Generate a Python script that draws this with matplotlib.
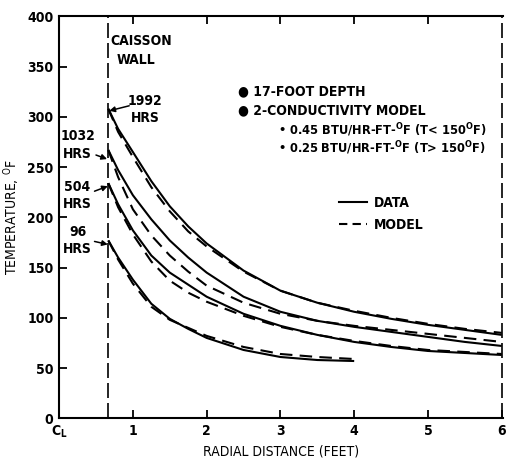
import numpy as np
import matplotlib.pyplot as plt
from matplotlib.lines import Line2D

plt.rcParams['font.family'] = ['DejaVu Sans']
plt.rcParams['font.stretch'] = 'condensed'
plt.rcParams['font.weight'] = 'bold'
plt.rcParams['mathtext.fontset'] = 'custom'
plt.rcParams['mathtext.rm'] = 'DejaVu Sans:stretch=condensed:weight=bold'

# radial distance (feet)
r = [0.667, 0.8, 1.0, 1.25, 1.5, 1.75, 2.0, 2.5, 3.0, 3.5, 4.0, 4.5, 5.0, 5.5, 6.0]
r96 = [0.667, 0.8, 1.0, 1.25, 1.5, 1.75, 2.0, 2.5, 3.0, 3.5, 4.0]

# temperature (F), data and model for each time
data_1992 = [308, 288, 265, 236, 211, 191, 174, 147, 127, 115, 106, 99, 93, 88, 83]
model_1992 = [308, 285, 260, 230, 206, 186, 171, 146, 127, 115, 107, 100, 94, 89, 85]
data_1032 = [267, 247, 222, 198, 177, 160, 145, 121, 106, 97, 91, 86, 81, 76, 72]
model_1032 = [267, 240, 208, 182, 162, 146, 132, 115, 104, 97, 92, 88, 84, 80, 76]
data_504 = [234, 213, 187, 162, 145, 133, 121, 104, 92, 83, 76, 71, 67, 65, 63]
model_504 = [234, 210, 183, 156, 137, 125, 116, 102, 91, 83, 77, 72, 68, 66, 64]
data_96 = [177, 160, 138, 114, 99, 89, 80, 68, 61, 58, 57]
model_96 = [177, 158, 134, 111, 98, 90, 82, 71, 64, 61, 59]

wall = 0.667
fs = 10

fig = plt.figure(figsize=(5.14, 4.62), dpi=100)
ax = fig.add_axes([0.115, 0.0946, 0.864, 0.870])

dash = (0, (6, 3.5))
lw = 1.5
for d, m, xs in [(data_1992, model_1992, r), (data_1032, model_1032, r),
                 (data_504, model_504, r), (data_96, model_96, r96)]:
    ax.plot(xs, d, color='black', lw=lw, solid_capstyle='butt')
    ax.plot(xs, m, color='black', lw=lw, linestyle=dash)

ax.axvline(wall, color='black', lw=1.2, linestyle=(0, (9, 3)))
ax.axvline(6.0, color='black', lw=1.2, linestyle=(0, (9, 3)))

ax.set_xlim(0, 6.02)
ax.set_ylim(0, 400)
ax.spines['right'].set_visible(False)
for s in ['left', 'bottom', 'top']:
    ax.spines[s].set_linewidth(1.5)

ax.set_yticks(np.arange(0, 401, 50))
ax.set_xticks([0, 1, 2, 3, 4, 5, 6])
ax.set_xticklabels(['C$_\\mathregular{L}$', '1', '2', '3', '4', '5', '6'])
ax.tick_params(direction='in', length=6, width=1.3, labelsize=fs, top=True, pad=4)
ax.xaxis.get_major_ticks()[0].tick1line.set_visible(False)
ax.xaxis.get_major_ticks()[0].tick2line.set_visible(False)
ax.xaxis.get_major_ticks()[6].tick2line.set_visible(False)

ax.set_xlabel('RADIAL DISTANCE (FEET)', fontsize=fs, labelpad=3)
ax.set_ylabel('TEMPERATURE, $^\\mathregular{O}$F', fontsize=fs, labelpad=4)

ax.text(0.70, 375, 'CAISSON', fontsize=fs, ha='left', va='center')
ax.text(1.04, 357, 'WALL', fontsize=fs, ha='center', va='center')

labels = [('1992\nHRS', 1.17, 307, (0.95, 311), (0.68, 306)),
          ('1032\nHRS', 0.25, 272, (0.50, 262), (0.65, 258)),
          ('504\nHRS', 0.24, 222, (0.48, 226), (0.66, 231)),
          ('96\nHRS', 0.25, 177, (0.48, 176), (0.66, 173))]
for txt, tx, ty, a0, a1 in labels:
    ax.text(tx, ty, txt, fontsize=fs, ha='center', va='center', linespacing=1.3)
    ax.annotate('', xy=a1, xytext=a0,
                arrowprops=dict(arrowstyle='-|>', color='black', lw=1.1,
                                mutation_scale=8, shrinkA=0, shrinkB=0))

ax.text(2.43, 325, '\u25cf 17-FOOT DEPTH', fontsize=fs, va='center')
ax.text(2.43, 306, '\u25cf 2-CONDUCTIVITY MODEL', fontsize=fs, va='center')
ax.text(2.97, 287, '\u2022 0.45 BTU/HR-FT-$^\\mathregular{O}$F (T< 150$^\\mathregular{O}$F)',
        fontsize=9.2, va='center')
ax.text(2.97, 269, '\u2022 0.25 BTU/HR-FT-$^\\mathregular{O}$F (T> 150$^\\mathregular{O}$F)',
        fontsize=9.2, va='center')

handles = [Line2D([], [], color='black', lw=lw),
           Line2D([], [], color='black', lw=lw, linestyle=(0, (4, 2.5)))]
ax.legend(handles, ['DATA', 'MODEL'], loc='center left', bbox_to_anchor=(0.602, 0.508),
          frameon=False, fontsize=fs, handlelength=2.0, handletextpad=0.5,
          labelspacing=0.6)

fig.savefig('out.png', dpi=100)
